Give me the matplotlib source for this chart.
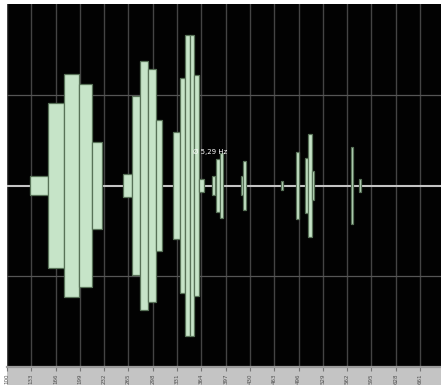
import matplotlib
matplotlib.use("Agg")
import matplotlib.pyplot as plt
from matplotlib.patches import Rectangle

# Frequency axis ticks (Hz)
tick_hz = [100, 133, 166, 199, 232, 265, 298, 331, 364, 397, 430, 463,
           496, 529, 562, 595, 628, 661]
tick_labels = [str(t) for t in tick_hz]

# Spectrum bins: start frequency, end frequency (Hz) and amplitude
bin_start = [131.2, 155.7, 177.4, 197.8, 215.4,
             257.5, 269.8, 280.6, 291.5, 302.3,
             325.4, 334.9, 341.7, 348.5, 353.9, 360.7,
             378.4, 383.8, 389.3, 417.8, 420.5,
             472.1, 492.5, 504.7, 508.8, 514.2, 567.2, 578.0]
bin_end = [155.7, 177.4, 197.8, 215.4, 229.0,
           269.8, 280.6, 291.5, 302.3, 310.5,
           334.9, 341.7, 348.5, 353.9, 360.7, 367.5,
           382.5, 389.3, 393.3, 420.5, 424.6,
           474.9, 496.5, 508.8, 514.2, 516.9, 569.9, 580.7]
amplitude = [0.11, 0.91, 1.24, 1.12, 0.48,
             0.13, 0.99, 1.38, 1.29, 0.73,
             0.59, 1.19, 1.67, 1.67, 1.22, 0.07,
             0.10, 0.29, 0.36, 0.10, 0.27,
             0.05, 0.37, 0.31, 0.57, 0.16, 0.43, 0.07]

marker_hz = 352.0
marker_level = 0.37
marker_text = "Ø 5,29 Hz"

W, H = 441, 385
fig = plt.figure(figsize=(W / 100, H / 100), dpi=100, facecolor="white")

# grey scale band under the plot
band = Rectangle((7 / W, 0), 1 - 7 / W, 18 / H, transform=fig.transFigure,
                 facecolor="#c4c4c4", edgecolor="none", zorder=-5)
fig.patches.append(band)

ax = fig.add_axes([7 / W, 18 / H, 1 - 7 / W, 363 / H])
ax.set_zorder(2)
ax.set_facecolor("#020202")
ax.set_xlim(100, 689.4)
ax.set_ylim(-2.01, 2.01)

for t in tick_hz:
    ax.axvline(t, color="#444444", lw=1.0, zorder=1)
for y in (-1, 1):
    ax.axhline(y, color="#555555", lw=0.9, zorder=1)
ax.axhline(0, color="#c4c4c4", lw=1.5, zorder=2)

widths = [e - s for s, e in zip(bin_start, bin_end)]
ax.bar(bin_start, [2 * a for a in amplitude], bottom=[-a for a in amplitude],
       width=widths, align="edge", color="#c6e4c8", edgecolor="#587258",
       linewidth=0.9, zorder=3)

ax.text(marker_hz, marker_level, marker_text, color="white", fontsize=5,
        ha="left", va="center", zorder=4)

ax.set_yticks([])
ax.set_xticks(tick_hz)
ax.set_xticklabels(tick_labels, rotation=90, fontsize=4, color="#505050")
ax.tick_params(axis="x", direction="out", length=3, width=0.8, color="#777777", pad=1.5)
for side in ("top", "left", "right"):
    ax.spines[side].set_visible(False)
ax.spines["bottom"].set_color("#9c9c9c")
ax.spines["bottom"].set_linewidth(1.6)

fig.savefig("out.png", dpi=100, facecolor="white")
